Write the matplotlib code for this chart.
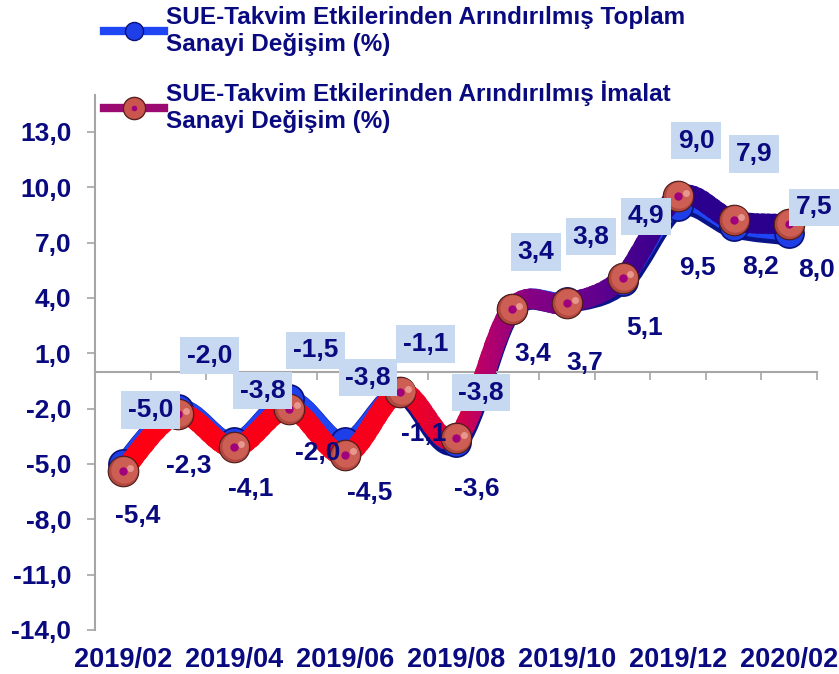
import matplotlib
matplotlib.use("Agg")
import matplotlib.pyplot as plt
import numpy as np
from matplotlib.path import Path
from matplotlib.patches import PathPatch, Rectangle
from matplotlib.lines import Line2D
from matplotlib.colors import LinearSegmentedColormap
from matplotlib.transforms import offset_copy
from matplotlib.legend_handler import HandlerTuple

plt.rcParams['font.family'] = ['Liberation Sans', 'DejaVu Sans']
plt.rcParams['font.weight'] = 'bold'

# veriler
aylar = ['2019/02', '2019/03', '2019/04', '2019/05', '2019/06', '2019/07', '2019/08',
         '2019/09', '2019/10', '2019/11', '2019/12', '2020/01', '2020/02']
toplam = [-5.0, -2.0, -3.8, -1.5, -3.8, -1.1, -3.8, 3.4, 3.8, 4.9, 9.0, 7.9, 7.5]
imalat = [-5.4, -2.3, -4.1, -2.0, -4.5, -1.1, -3.6, 3.4, 3.7, 5.1, 9.5, 8.2, 8.0]
y_ticks = [-14, -11, -8, -5, -2, 1, 4, 7, 10, 13]
lbl_toplam = 'SUE-Takvim Etkilerinden Arındırılmış Toplam\nSanayi Değişim (%)'
lbl_imalat = 'SUE-Takvim Etkilerinden Arındırılmış İmalat\nSanayi Değişim (%)'

# etiket kaydirmalari (piksel)
off_toplam = [(28, 54), (31, 53), (29, 51), (26, 49), (23, 64), (25, 48), (25, 49),
              (24, 57), (24, 65), (23, 65), (18, 65), (20, 72), (25, 26)]
off_imalat = [(15, -45), (10, -52), (17, -42), (28, -44), (25, -38), (23, -42), (21, -51),
              (21, -45), (18, -60), (22, -50), (19, -72), (27, -47), (27, -46)]

NAVY = '#0A0A80'
GRI = '#A6A6A6'
FS = 19


def smooth_path(vals):
    # Excel tarzi yumusak cizgi (kubik bezier)
    n = len(vals)
    p = np.column_stack([np.arange(n), vals]).astype(float)
    verts = [p[0]]
    codes = [Path.MOVETO]
    for i in range(n - 1):
        p0 = p[i - 1] if i > 0 else p[i]
        p3 = p[i + 2] if i + 2 < n else p[i + 1]
        c1 = p[i] + (p[i + 1] - p0) / 6
        c2 = p[i + 1] - (p3 - p[i]) / 6
        verts += [c1, c2, p[i + 1]]
        codes += [Path.CURVE4] * 3
    return Path(verts, codes)


fig = plt.figure(figsize=(8.39, 6.74), dpi=100)
ax = fig.add_axes([0.1132, 0.0653, 0.8606, 0.7937])
ax.set_xlim(-0.5, 12.5)
ax.set_ylim(-14, 15)

# toplam (mavi) cizgi
yol_t = smooth_path(toplam)
for lw, col, dy, z in [(15, '#0A1488', -1.2, 2), (12, '#1F46F5', 0.6, 2.1)]:
    tr = offset_copy(ax.transData, fig=fig, x=0, y=dy, units='points')
    ax.add_patch(PathPatch(yol_t, fill=False, ec=col, lw=lw, transform=tr,
                           capstyle='round', joinstyle='round', zorder=z))
ax.plot(range(len(toplam)), toplam, 'o', ms=21, mfc='#1E3FE8', mec='#08107A',
        mew=1.2, zorder=3)

# imalat (kirmizi -> lacivert gradyan) cizgi
cmap = LinearSegmentedColormap.from_list('imalat', [
    (0.0, '#FF0010'), (5.6 / 13, '#F5001E'), (6.4 / 13, '#D80040'),
    (7.1 / 13, '#B0006E'), (7.8 / 13, '#880082'), (8.8 / 13, '#6A008C'),
    (9.8 / 13, '#44008E'), (10.6 / 13, '#2C008E'), (1.0, '#28008C')])
yol_i = smooth_path(imalat)
nb = 130
w = 13 / nb
for k in range(nb):
    x0 = -0.5 + k * w
    clip = Rectangle((x0, -20), w * 1.6, 40, transform=ax.transData)
    pp = PathPatch(yol_i, fill=False, ec=cmap((k + 0.5) / nb), lw=14.5,
                   capstyle='round', joinstyle='round', zorder=4)
    ax.add_patch(pp)
    pp.set_clip_path(clip)

xs = range(len(imalat))
ax.plot(xs, imalat, 'o', ms=22, mfc='#B04840', mec='#4A1A18', mew=0.8, zorder=5)
ax.plot(xs, imalat, 'o', ms=19, mfc='#CC5E54', mec='none', zorder=5.1,
        transform=offset_copy(ax.transData, fig=fig, x=0.8, y=0.8, units='points'))
ax.plot(xs, imalat, 'o', ms=5, mfc='#F4B0A8', mec='none', alpha=0.7, zorder=5.2,
        transform=offset_copy(ax.transData, fig=fig, x=5.5, y=2.5, units='points'))
ax.plot(xs, imalat, 'o', ms=6, mfc='#A0007C', mec='none', zorder=5.3)

# veri etiketleri
def fmt(v):
    return f'{v:.1f}'.replace('.', ',')

for i, v in enumerate(toplam):
    dx, dy = off_toplam[i]
    ax.annotate(fmt(v), (i, v), xytext=(dx * 0.72, dy * 0.72), textcoords='offset points',
                ha='center', va='center', fontsize=FS, color=NAVY, fontweight='bold',
                bbox=dict(boxstyle='square,pad=0.25', fc='#C6D9F1', ec='none'), zorder=6)
for i, v in enumerate(imalat):
    dx, dy = off_imalat[i]
    ax.annotate(fmt(v), (i, v), xytext=(dx * 0.72, dy * 0.72), textcoords='offset points',
                ha='center', va='center', fontsize=FS, color=NAVY, fontweight='bold',
                zorder=6)

# eksenler
for s in ['top', 'right']:
    ax.spines[s].set_visible(False)
ax.spines['bottom'].set_position(('data', 0))
for s in ['bottom', 'left']:
    ax.spines[s].set_color(GRI)
    ax.spines[s].set_linewidth(1.5)
ax.set_xticks(np.arange(-0.5, 13, 1))
ax.tick_params(axis='x', labelbottom=False, length=6, width=1.2, color=GRI, direction='out')
ax.set_yticks(y_ticks)
ax.set_yticklabels([fmt(t) for t in y_ticks])
ax.tick_params(axis='y', length=6, width=1.2, color=GRI, pad=11, labelsize=FS,
               labelcolor=NAVY)

sec = ax.secondary_xaxis('bottom')
sec.set_xticks(range(0, len(aylar), 2))
sec.set_xticklabels(aylar[::2])
sec.tick_params(length=0, pad=12, labelsize=19.5, labelcolor=NAVY)
sec.spines['bottom'].set_visible(False)

# lejant
h_t = Line2D([], [], color='#1F46F5', lw=6, marker='o', ms=13, mfc='#1E3FE8', mec='#08107A')
h_i = Line2D([], [], color='#9A0A70', lw=6, marker='o', ms=16, mfc='#C9554C', mec='#5A2020')
h_d = Line2D([], [], ls='none', marker='o', ms=4, mfc='#A0007C', mec='none')
leg = fig.legend([h_t, (h_i, h_d)], [lbl_toplam, lbl_imalat], loc='upper left',
                 bbox_to_anchor=(104 / 839, 1 - 6 / 674), frameon=False, fontsize=17.5,
                 handlelength=2.45, handletextpad=0.12, labelspacing=1.05,
                 borderaxespad=0, borderpad=0,
                 handler_map={tuple: HandlerTuple(ndivide=1)})
for t in leg.get_texts():
    t.set_color(NAVY)
    t.set_fontweight('bold')

fig.savefig('out.png', dpi=100)
